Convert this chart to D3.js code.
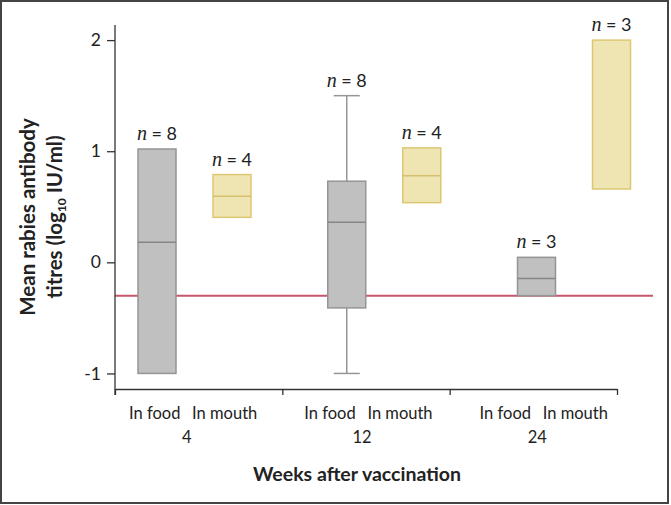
<!DOCTYPE html>
<html>
<head>
<meta charset="utf-8">
<script src="https://cdn.jsdelivr.net/npm/d3@7"></script>
<style>
  html, body { margin: 0; padding: 0; background: #fff; }
  svg { display: block; }
</style>
</head>
<body>
<div id="chart"></div>
<script>
// weeks after vaccination and the two delivery methods
const weeks = ["4", "12", "24"];
const methods = ["In food", "In mouth"];
const yTicks = [-1, 0, 1, 2];
const threshold = -0.3;

// log10 IU/ml
const foodQ1 = [-1.0, -0.41, -0.3];
const foodMedian = [0.18, 0.36, -0.145];
const foodQ3 = [1.02, 0.73, 0.045];
const foodMin = [null, -1.0, null];
const foodMax = [null, 1.5, null];
const foodN = [8, 8, 3];

const mouthQ1 = [0.405, 0.537, 0.66];
const mouthMedian = [0.595, 0.78, null];
const mouthQ3 = [0.79, 1.03, 2.0];
const mouthMin = [null, null, null];
const mouthMax = [null, null, null];
const mouthN = [4, 4, 3];

const width = 671, height = 505;
const font = "Lato, 'Open Sans', sans-serif";

const svg = d3.select("#chart").append("svg")
    .attr("width", width)
    .attr("height", height);

// outer frame
svg.append("rect")
    .attr("x", 1).attr("y", 1)
    .attr("width", width - 4).attr("height", height - 3)
    .attr("fill", "none")
    .attr("stroke", "#444")
    .attr("stroke-width", 2);

const y = d3.scaleLinear().domain([-1.14, 2.136]).range([389, 25]);

// boxes sit on their own spacing, the axis ticks and labels on another
const xGroup = d3.scalePoint().domain(weeks).range([194.5, 574]);
const xMethod = d3.scalePoint().domain(methods).range([-37.5, 37.5]);
const xTick = d3.scaleLinear().domain([0, 3]).range([115, 617]);
const xLabel = d3.scalePoint().domain(weeks).range([186.7, 537.3]);
const xLabelMethod = d3.scalePoint().domain(methods).range([-32, 38]);
const boxW = 38;

const rows = [];
weeks.forEach((w, i) => {
    rows.push({ week: w, method: "In food", q1: foodQ1[i], med: foodMedian[i], q3: foodQ3[i],
        lo: foodMin[i], hi: foodMax[i], n: foodN[i], fill: "#c0c0c0", stroke: "#959595", medStroke: "#858585" });
    rows.push({ week: w, method: "In mouth", q1: mouthQ1[i], med: mouthMedian[i], q3: mouthQ3[i],
        lo: mouthMin[i], hi: mouthMax[i], n: mouthN[i], fill: "#efe5b2", stroke: "#ddc772", medStroke: "#d6c070" });
});
const cx = d => xGroup(d.week) + xMethod(d.method);

// threshold line, behind the boxes
svg.append("line")
    .attr("x1", xTick(0)).attr("x2", 653)
    .attr("y1", y(threshold)).attr("y2", y(threshold))
    .attr("stroke", "#c5566c")
    .attr("stroke-width", 2);

// y axis
const yAxis = svg.append("g")
    .attr("transform", `translate(${xTick(0)},0)`)
    .call(d3.axisLeft(y).tickValues(yTicks).tickFormat(d => String(d)).tickSize(8).tickSizeOuter(0).tickPadding(6));
yAxis.select(".domain").attr("stroke", "#333").attr("stroke-width", 1.3)
    .attr("d", `M0,${y.range()[1]}V395`);
yAxis.selectAll(".tick line").attr("stroke", "#333").attr("stroke-width", 1.3);
yAxis.selectAll(".tick text")
    .attr("font-family", font).attr("font-size", 17.5).attr("fill", "#222");

// x axis: plain line with group dividers
const xAxis = svg.append("g")
    .attr("transform", `translate(0,${y.range()[0]})`)
    .call(d3.axisBottom(xTick).tickValues([0, 1, 2, 3]).tickFormat("").tickSize(6).tickSizeOuter(0));
xAxis.select(".domain").attr("stroke", "#333").attr("stroke-width", 1.3);
xAxis.selectAll(".tick line").attr("stroke", "#333").attr("stroke-width", 1.3);

// whiskers
const whisk = svg.append("g").selectAll("g")
    .data(rows.filter(d => d.lo != null))
    .join("g")
    .attr("stroke", "#959595")
    .attr("stroke-width", 1.5);
whisk.append("line")
    .attr("x1", cx).attr("x2", cx)
    .attr("y1", d => y(d.hi)).attr("y2", d => y(d.lo));
whisk.append("line")
    .attr("x1", d => cx(d) - 13).attr("x2", d => cx(d) + 13)
    .attr("y1", d => y(d.hi)).attr("y2", d => y(d.hi));
whisk.append("line")
    .attr("x1", d => cx(d) - 13).attr("x2", d => cx(d) + 13)
    .attr("y1", d => y(d.lo)).attr("y2", d => y(d.lo));

// boxes
svg.append("g").selectAll("rect")
    .data(rows)
    .join("rect")
    .attr("x", d => cx(d) - boxW / 2)
    .attr("width", boxW)
    .attr("y", d => y(d.q3))
    .attr("height", d => y(d.q1) - y(d.q3))
    .attr("fill", d => d.fill)
    .attr("stroke", d => d.stroke)
    .attr("stroke-width", 1.5);

svg.append("g").selectAll("line")
    .data(rows.filter(d => d.med != null))
    .join("line")
    .attr("x1", d => cx(d) - boxW / 2).attr("x2", d => cx(d) + boxW / 2)
    .attr("y1", d => y(d.med)).attr("y2", d => y(d.med))
    .attr("stroke", d => d.medStroke)
    .attr("stroke-width", 1.5);

// n labels
const nText = svg.append("g").selectAll("text")
    .data(rows)
    .join("text")
    .attr("x", cx)
    .attr("y", d => y(d.hi != null ? d.hi : d.q3) - 9)
    .attr("text-anchor", "middle")
    .attr("font-size", 18)
    .attr("fill", "#222");
nText.append("tspan")
    .attr("font-family", "'Liberation Serif', serif")
    .attr("font-style", "italic")
    .attr("font-size", 20)
    .text("n");
nText.append("tspan")
    .attr("font-family", font)
    .text(d => ` = ${d.n}`);

// category labels under the axis
const catG = svg.append("g")
    .attr("font-family", font)
    .attr("fill", "#222")
    .attr("text-anchor", "middle");
weeks.forEach(w => {
    methods.forEach(m => {
        catG.append("text")
            .attr("x", xLabel(w) + xLabelMethod(m))
            .attr("y", 419)
            .attr("font-size", 16.5)
            .text(m);
    });
    catG.append("text")
        .attr("x", xLabel(w))
        .attr("y", 443)
        .attr("font-size", 16.5)
        .text(w);
});

// axis titles
svg.append("text")
    .attr("x", 357).attr("y", 481)
    .attr("text-anchor", "middle")
    .attr("font-family", font)
    .attr("font-weight", "bold")
    .attr("font-size", 19.5)
    .attr("fill", "#222")
    .text("Weeks after vaccination");

const yTitle = svg.append("text")
    .attr("transform", "translate(0,217) rotate(-90)")
    .attr("text-anchor", "middle")
    .attr("font-family", font)
    .attr("font-weight", "bold")
    .attr("font-size", 20.5)
    .attr("fill", "#222");
yTitle.append("tspan").attr("x", 0).attr("y", 35).text("Mean rabies antibody");
const line2 = yTitle.append("tspan").attr("x", 0).attr("y", 62);
line2.append("tspan").text("titres (log");
line2.append("tspan").attr("font-size", 12).attr("dy", 4).text("10");
line2.append("tspan").attr("dy", -4).text(" IU/ml)");
</script>
</body>
</html>
